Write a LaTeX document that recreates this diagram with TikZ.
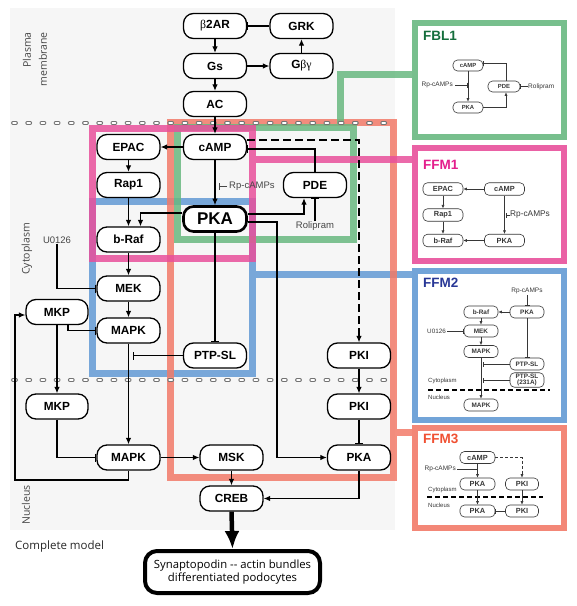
\documentclass[tikz,border=0pt]{standalone}
\usepackage{fontspec}
\setmainfont{Liberation Sans}
\newfontfamily\labelfont{Open Sans}
\newfontfamily\grkfont{Liberation Serif}
\usetikzlibrary{arrows.meta}
\definecolor{cgreen}{RGB}{104,184,128}
\definecolor{cpink}{RGB}{232,80,155}
\definecolor{cblue}{RGB}{98,154,212}
\definecolor{csalmon}{RGB}{242,122,104}
\definecolor{tgreen}{RGB}{20,110,60}
\definecolor{tpink}{RGB}{228,30,140}
\definecolor{tblue}{RGB}{40,55,150}
\definecolor{tsalmon}{RGB}{240,80,50}
\definecolor{bggray}{RGB}{246,246,246}
\definecolor{txtgray}{RGB}{70,70,70}
\definecolor{minigray}{RGB}{55,55,55}
\tikzset{
  mnode/.style={draw=black, line width=1.3pt, fill=white, rounded corners=10pt, minimum width=63pt, minimum height=25pt, inner sep=0pt, font=\fontsize{11.8}{12}\selectfont\bfseries},
  pkanode/.style={mnode, line width=2.6pt, font=\fontsize{17}{18}\selectfont\bfseries},
  act/.style={line width=1.1pt, -{Latex[length=6.5pt,width=5.5pt]}},
  inh/.style={line width=1.1pt, -{Bar[width=8pt]}},
  dact/.style={act, dash pattern=on 8pt off 4pt},
  cbox/.style={line width=7pt, opacity=0.85},
  sidebox/.style={line width=6pt, fill=white},
  smallt/.style={font=\fontsize{9.5}{10}\selectfont, text=txtgray, inner sep=0pt},
  regionlabel/.style={font=\labelfont\fontsize{10.5}{12}\selectfont, text=txtgray, rotate=90, inner sep=0pt},
  boxtitle/.style={font=\fontsize{13.5}{14}\selectfont\bfseries, anchor=west, inner sep=0pt},
  mini/.style={draw=minigray, line width=0.6pt, fill=white, rounded corners=4.5pt, inner sep=0pt, text=minigray},
  miniact/.style={draw=minigray, line width=0.6pt, -{Latex[length=3.5pt,width=3pt]}},
  miniinh/.style={draw=minigray, line width=0.6pt, -{Bar[width=5pt]}},
  minit/.style={text=minigray, inner sep=0pt},
  dotline/.style={line cap=round, dash pattern=on 3pt off 11.2pt},
}
\begin{document}
\begin{tikzpicture}[x=1pt,y=-1pt]
\useasboundingbox (0,0) rectangle (577,606);
% background
\fill[bggray] (10,8) rectangle (395,530);

% coloured module outlines
\draw[cbox, draw=cblue] (92,201) rectangle (252,373) (252,274) -- (415,274);
\draw[cbox, draw=csalmon] (170,122) rectangle (393,477) (393,432) -- (415,432);
\draw[cbox, draw=cgreen] (177,127) rectangle (353,239) (340,127) -- (340,74) -- (415,74);
\draw[cbox, draw=cpink] (92,128) rectangle (252,258) (252,159) -- (415,159);

% membrane / nuclear envelope dotted lines
\draw[black!55, line width=3.8pt, dotline] (13,123) -- (390,123);
\draw[white, line width=1.8pt, dotline] (13,123) -- (390,123);
\draw[black!55, line width=3.8pt, dotline] (13,380) -- (390,380);
\draw[white, line width=1.8pt, dotline] (13,380) -- (390,380);

% region labels
\node[regionlabel, anchor=east] at (27,32) {Plasma};
\node[regionlabel, anchor=east] at (43,32) {membrane};
\node[regionlabel] at (27,249) {Cytoplasm};
\node[regionlabel] at (26,505) {Nucleus};
\node[font=\labelfont\fontsize{11.5}{12}\selectfont, text=black!85, anchor=west, inner sep=0pt] at (15,547) {Complete model};

% main nodes
\node[mnode] (b2ar) at (215,26) {{\grkfont\mdseries β}2AR};
\node[mnode] (grk) at (301.5,26) {GRK};
\node[mnode] (gs) at (215,66) {Gs};
\node[mnode] (gbg) at (301.5,66) {G{\grkfont\mdseries βγ}};
\node[mnode] (ac) at (215,104) {AC};
\node[mnode] (camp) at (215,147) {cAMP};
\node[mnode] (epac) at (128.5,147) {EPAC};
\node[mnode] (rap1) at (128.5,185) {Rap1};
\node[mnode] (braf) at (128.5,239.5) {b-Raf};
\node[pkanode] (pka) at (215,219) {PKA};
\node[mnode] (pde) at (315,185) {PDE};
\node[mnode] (mek) at (128.5,288.5) {MEK};
\node[mnode, minimum width=62pt] (mkp1) at (57,312) {MKP};
\node[mnode] (mapk1) at (128.5,330.5) {MAPK};
\node[mnode] (ptp) at (215,355.5) {PTP-SL};
\node[mnode] (pki1) at (359,355.5) {PKI};
\node[mnode, minimum width=62pt] (mkp2) at (57,406.5) {MKP};
\node[mnode] (pki2) at (359,406.5) {PKI};
\node[mnode] (mapk2) at (128.5,457.5) {MAPK};
\node[mnode] (msk) at (231.5,457.5) {MSK};
\node[mnode] (pka2) at (359,457.5) {PKA};
\node[mnode] (creb) at (231.5,498.5) {CREB};
\node[draw=black, line width=4pt, fill=white, rounded corners=12pt, minimum width=175pt, minimum height=42pt, inner sep=0pt, align=center, font=\labelfont\fontsize{11.3}{13.5}\selectfont] (syn) at (232.5,572) {Synaptopodin -\kern0pt- actin bundles\\differentiated podocytes};

% small text labels
\node[smallt, anchor=west] (rp) at (229,186) {Rp-cAMPs};
\coordinate (rpbar) at (218.5,186);
\node[smallt] (rol) at (315,226) {Rolipram};
\node[smallt] (u0126) at (57,240) {U0126};
\coordinate (ptpbar) at (132.5,355.5);
\coordinate (pkaturn) at (277,457.5);
\coordinate (loopA) at (15,480);

% connectors
\draw[act] (b2ar) -- (gs);
\draw[inh] (grk) -- (b2ar);
\draw[act] (gs) -- (gbg);
\draw[act] (gbg) -- (grk);
\draw[act] (gs) -- (ac);
\draw[act] (ac) -- (camp);
\draw[act] (camp) -- (epac);
\draw[act] (epac) -- (rap1);
\draw[act] (rap1) -- (braf);
\draw[act] (camp) -- (pka);
\draw[line width=0.8pt, draw=txtgray, -{Bar[width=7pt]}] ([xshift=-2pt]rp.west) -- (rpbar);
\draw[inh] (pde.north) |- ([yshift=-2pt]camp.east);
\draw[dact] ([yshift=7pt]camp.east) -| (pki1.north);
\draw[act] ([yshift=5pt]pka.east) -| ([xshift=-11pt]pde.south);
\draw[inh] (rol.north) -- (pde.south);
\draw[act] ([yshift=6pt]pka.west) -| ([xshift=12pt]braf.north);
\draw[inh] (pka) -- (ptp);
\draw[act] ([yshift=-3pt]pka.east) -| (pkaturn) -- (pka2.west);
\draw[act] (braf) -- (mek);
\draw[inh] (u0126.south) |- (mek.west);
\draw[act] (mek) -- (mapk1);
\draw[inh] ([xshift=11pt]mkp1.south) |- (mapk1.west);
\draw[act] (mkp1) -- (mkp2);
\draw[inh] (ptp.west) -- (ptpbar);
\draw[act] (mapk1) -- (mapk2);
\draw[inh] (mkp2.south) |- (mapk2.west);
\draw[act] (mapk2.south) |- (loopA) |- ([yshift=-3pt]mkp1.west);
\draw[act] (mapk2) -- (msk);
\draw[act] (msk) -- (creb);
\draw[act] (pka2.south) |- (creb.east);
\draw[act] (pki1) -- (pki2);
\draw[inh] (pki2) -- (pka2);
\draw[line width=4.5pt, -{Latex[length=18pt,width=15pt]}] (creb.south) -- (syn.north);

% side boxes
\draw[sidebox, draw=cgreen!90] (415,23) rectangle (564,137);
\draw[sidebox, draw=cpink!90] (415,148) rectangle (564,261);
\draw[sidebox, draw=cblue!90] (415,271) rectangle (564,420);
\draw[sidebox, draw=csalmon!90] (415,428) rectangle (564,528);
\node[boxtitle, text=tgreen] at (423,35.5) {FBL1};
\node[boxtitle, text=tpink] at (423,165) {FFM1};
\node[boxtitle, text=tblue] at (423,283) {FFM2};
\node[boxtitle, text=tsalmon] at (423,439) {FFM3};

% FBL1 mini
\begin{scope}[every node/.append style={font=\fontsize{5.9}{6}\selectfont\bfseries}]
\node[mini, minimum width=30pt, minimum height=11pt] (f1camp) at (468,65.5) {cAMP};
\node[mini, minimum width=30pt, minimum height=11pt] (f1pka) at (468,107.5) {PKA};
\node[mini, minimum width=32pt, minimum height=11pt] (f1pde) at (504,86.5) {PDE};
\end{scope}
\node[minit, font=\fontsize{6.5}{7}\selectfont, anchor=east] (f1rp) at (453,85) {Rp-cAMPs};
\coordinate (f1rpbar) at (468,85);
\node[minit, font=\fontsize{6.5}{7}\selectfont, anchor=west] (f1rol) at (528,86.5) {Rolipram};
\draw[miniact] (f1camp) -- (f1pka);
\draw[miniinh] ([xshift=2pt]f1rp.east) -- (f1rpbar);
\draw[miniinh] (f1rol.west) -- (f1pde.east);
\draw[miniinh] ([xshift=2pt]f1pde.north) |- ([yshift=2pt]f1camp.east);
\draw[miniact] (f1pka.east) -| ([xshift=2pt]f1pde.south);

% FFM1 mini
\begin{scope}[every node/.append style={font=\fontsize{7.4}{8}\selectfont\bfseries}]
\node[mini, minimum width=40pt, minimum height=12.5pt] (f2epac) at (443,189) {EPAC};
\node[mini, minimum width=40pt, minimum height=12.5pt] (f2camp) at (504.5,189) {cAMP};
\node[mini, minimum width=40pt, minimum height=12.5pt] (f2rap) at (443,215) {Rap1};
\node[mini, minimum width=40pt, minimum height=12.5pt] (f2braf) at (443,240.5) {b-Raf};
\node[mini, minimum width=40pt, minimum height=12.5pt] (f2pka) at (504.5,240.5) {PKA};
\end{scope}
\node[minit, font=\fontsize{8.3}{9}\selectfont, anchor=west] (f2rp) at (510,215) {Rp-cAMPs};
\coordinate (f2rpbar) at (505.5,215);
\draw[miniact] (f2camp) -- (f2epac);
\draw[miniact] (f2epac) -- (f2rap);
\draw[miniact] (f2rap) -- (f2braf);
\draw[miniact] (f2camp) -- (f2pka);
\draw[miniact] (f2pka) -- (f2braf);
\draw[miniinh] (f2rp.west) -- (f2rpbar);

% FFM2 mini
\begin{scope}[every node/.append style={font=\fontsize{6.4}{6.6}\selectfont\bfseries}]
\node[mini, minimum width=34pt, minimum height=12pt] (f3pka) at (527,312) {PKA};
\node[mini, minimum width=34pt, minimum height=12pt] (f3braf) at (481,312) {b-Raf};
\node[mini, minimum width=34pt, minimum height=12pt] (f3mek) at (481,331) {MEK};
\node[mini, minimum width=34pt, minimum height=12pt] (f3mapk) at (481,351.5) {MAPK};
\node[mini, minimum width=34pt, minimum height=12pt] (f3ptp) at (527,364) {PTP-SL};
\node[mini, minimum width=34pt, minimum height=14.5pt, align=center] (f3ptp2) at (527,380) {PTP-SL\\(231A)};
\node[mini, minimum width=34pt, minimum height=12pt] (f3mapk2) at (481,405) {MAPK};
\end{scope}
\node[minit, font=\fontsize{6.5}{7}\selectfont] (f3rp) at (527,291) {Rp-cAMPs};
\node[minit, font=\fontsize{6.3}{7}\selectfont, anchor=east] (f3u) at (446,331) {U0126};
\node[minit, font=\fontsize{6}{7}\selectfont, anchor=west] at (428,381) {Cytoplasm};
\node[minit, font=\fontsize{6}{7}\selectfont, anchor=west] at (428,397) {Nucleus};
\coordinate (f3bar1) at (483,364);
\coordinate (f3bar2) at (483,380);
\draw[line width=1.8pt, dash pattern=on 5pt off 3pt] (428,390) -- (550,390);
\draw[miniinh] ([yshift=-1pt]f3rp.south) -- (f3pka.north);
\draw[miniact] (f3pka) -- (f3braf);
\draw[miniact] (f3braf) -- (f3mek);
\draw[miniact] (f3mek) -- (f3mapk);
\draw[miniact] (f3mapk) -- (f3mapk2);
\draw[miniinh] ([xshift=1pt]f3u.east) -- (f3mek.west);
\draw[miniinh] (f3pka) -- (f3ptp);
\draw[miniinh] (f3ptp.west) -- (f3bar1);
\draw[miniinh] (f3ptp2.west) -- (f3bar2);

% FFM3 mini
\begin{scope}[every node/.append style={font=\fontsize{7.4}{8}\selectfont\bfseries}]
\node[mini, minimum width=35pt, minimum height=12pt] (f4camp) at (477.5,457.5) {cAMP};
\node[mini, minimum width=35pt, minimum height=12pt] (f4pka) at (477.5,484) {PKA};
\node[mini, minimum width=33pt, minimum height=12pt] (f4pki) at (522,484) {PKI};
\node[mini, minimum width=35pt, minimum height=12pt] (f4pka2) at (477.5,511) {PKA};
\node[mini, minimum width=33pt, minimum height=12pt] (f4pki2) at (522,511) {PKI};
\end{scope}
\node[minit, font=\fontsize{6.5}{7}\selectfont, anchor=east] (f4rp) at (456,469) {Rp-cAMPs};
\coordinate (f4rpbar) at (477.5,469);
\node[minit, font=\fontsize{6}{7}\selectfont, anchor=west] at (428,490) {Cytoplasm};
\node[minit, font=\fontsize{6}{7}\selectfont, anchor=west] at (428,505) {Nucleus};
\draw[line width=1.8pt, dash pattern=on 5pt off 3pt] (427,497) -- (543,497);
\draw[miniact, dash pattern=on 3pt off 2pt] (f4camp.east) -| (f4pki.north);
\draw[miniact] (f4camp) -- (f4pka);
\draw[miniinh] ([xshift=1pt]f4rp.east) -- (f4rpbar);
\draw[miniact] (f4pka) -- (f4pka2);
\draw[miniact] (f4pki) -- (f4pki2);
\draw[miniinh] (f4pki2) -- (f4pka2);
\end{tikzpicture}
\end{document}
